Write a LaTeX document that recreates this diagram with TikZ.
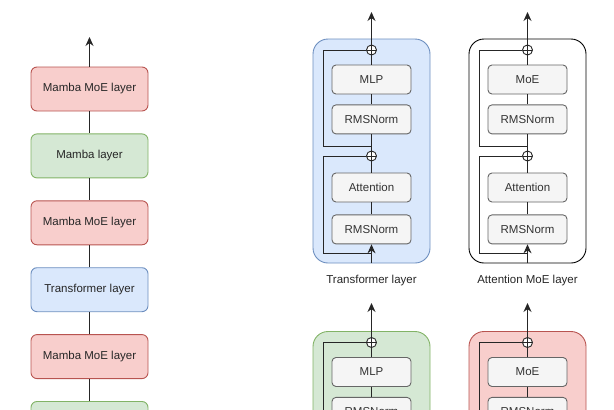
\documentclass[tikz,border=0pt]{standalone}
\usepackage{fontspec}
\setmainfont{Liberation Sans}
\usepackage{tikz}
\usetikzlibrary{
	arrows.meta,
	positioning,
}

\definecolor{moered}{HTML}{F8CECC}
\definecolor{moeredline}{HTML}{B85450}
\definecolor{mambagreen}{HTML}{D5E8D4}
\definecolor{mambagreenline}{HTML}{82B366}
\definecolor{transblue}{HTML}{DAE8FC}
\definecolor{transblueline}{HTML}{6C8EBF}
\definecolor{opfill}{HTML}{F5F5F5}
\definecolor{opline}{HTML}{666666}
\definecolor{optext}{HTML}{333333}

\begin{document}
\begin{tikzpicture}[
	x=1pt, y=-1pt,
	>={Stealth[length=9pt,width=8pt]}, line width=0.9pt, black!85,
	text=black!85,
	font=\fontsize{11.5}{13}\selectfont,
	node distance=22pt,
	layer/.style={rectangle, rounded corners=6pt, minimum width=117pt, minimum height=44pt, inner sep=0pt},
	moelayer/.style={layer, fill=moered, draw=moeredline},
	mambalayer/.style={layer, fill=mambagreen, draw=mambagreenline},
	translayer/.style={layer, fill=transblue, draw=transblueline},
	panel/.style={rectangle, rounded corners=15pt, minimum width=117pt, minimum height=224pt},
	op/.style={rectangle, rounded corners=4pt, fill=opfill, draw=opline, text=optext, minimum width=79pt, minimum height=29pt, inner sep=0pt},
	oplus/.style={circle, draw, fill=white, minimum size=10pt, inner sep=0pt,
		path picture={\draw (path picture bounding box.north) -- (path picture bounding box.south)
			(path picture bounding box.west) -- (path picture bounding box.east);}},
	]
	\useasboundingbox (0,0) rectangle (614,410);
	\clip (0,0) rectangle (614,410);
	
	%% left column
	\node[moelayer] (moe1) at (89.5,89) {Mamba MoE layer};
	\node[mambalayer, below=of moe1] (mamba1) {Mamba layer};
	\node[moelayer, below=of mamba1] (moe2) {Mamba MoE layer};
	\node[translayer, below=of moe2] (trans1) {Transformer layer};
	\node[moelayer, below=of trans1] (moe3) {Mamba MoE layer};
	\node[mambalayer, below=of moe3] (mamba2) {};
	\coordinate (out) at (89.5,37);
	
	\draw[->] (moe1) -- (out);
	\draw (moe1) -- (mamba1);
	\draw (mamba1) -- (moe2);
	\draw (moe2) -- (trans1);
	\draw (trans1) -- (moe3);
	\draw (moe3) -- (mamba2);
	
	%% transformer layer
	\node[panel, fill=transblue, draw=transblueline] (tpanel) at (371.5,151) {};
	\node[oplus] (tadd2) at (371.5,50) {};
	\node[op] (tmlp) at (371.5,79.5) {MLP};
	\node[op, below=10pt of tmlp] (tnorm1) {RMSNorm};
	\node[oplus] (tadd1) at (371.5,156) {};
	\node[op] (tattn) at (371.5,187.5) {Attention};
	\node[op, below=12pt of tattn] (tnorm2) {RMSNorm};
	\node (tlabel) at (371.5,281) {Transformer layer};
	\coordinate (tsplit1) at (371.5,253);
	\coordinate (tsplit2) at (371.5,146);
	\coordinate (tout) at (371.5,12);
	
	\draw[->] (tpanel.south) -- (tnorm2);
	\draw (tnorm2) -- (tattn);
	\draw (tattn) -- (tadd1);
	\draw (tadd1) -- (tnorm1);
	\draw (tnorm1) -- (tmlp);
	\draw (tmlp) -- (tadd2);
	\draw[->] (tadd2) -- (tout);
	\draw (tsplit1) -- ++(-48.5,0) |- (tadd1);
	\draw (tsplit2) -- ++(-48.5,0) |- (tadd2);
	
	%% attention moe layer
	\node[panel, fill=white, draw=black] (apanel) at (527.5,151) {};
	\node[oplus] (aadd2) at (527.5,50) {};
	\node[op] (amoe) at (527.5,79.5) {MoE};
	\node[op, below=10pt of amoe] (anorm1) {RMSNorm};
	\node[oplus] (aadd1) at (527.5,156) {};
	\node[op] (aattn) at (527.5,187.5) {Attention};
	\node[op, below=12pt of aattn] (anorm2) {RMSNorm};
	\node (alabel) at (527.5,281) {Attention MoE layer};
	\coordinate (asplit1) at (527.5,253);
	\coordinate (asplit2) at (527.5,146);
	\coordinate (aout) at (527.5,12);
	
	\draw[->] (apanel.south) -- (anorm2);
	\draw (anorm2) -- (aattn);
	\draw (aattn) -- (aadd1);
	\draw (aadd1) -- (anorm1);
	\draw (anorm1) -- (amoe);
	\draw (amoe) -- (aadd2);
	\draw[->] (aadd2) -- (aout);
	\draw (asplit1) -- ++(-48.5,0) |- (aadd1);
	\draw (asplit2) -- ++(-48.5,0) |- (aadd2);
	
	%% mamba layer (cut off)
	\node[panel, fill=mambagreen, draw=mambagreenline] (mpanel) at (371.5,443.5) {};
	\node[oplus] (madd) at (371.5,342.5) {};
	\node[op] (mmlp) at (371.5,372) {MLP};
	\node[op, below=10pt of mmlp] (mnorm) {RMSNorm};
	\coordinate (msplit) at (371.5,438.5);
	\coordinate (mout) at (371.5,303);
	
	\draw (mnorm) -- (mmlp);
	\draw (mmlp) -- (madd);
	\draw[->] (madd) -- (mout);
	\draw (msplit) -- ++(-48.5,0) |- (madd);
	
	%% mamba moe layer (cut off)
	\node[panel, fill=moered, draw=moeredline] (rpanel) at (527.5,443.5) {};
	\node[oplus] (radd) at (527.5,342.5) {};
	\node[op] (rmoe) at (527.5,372) {MoE};
	\node[op, below=10pt of rmoe] (rnorm) {RMSNorm};
	\coordinate (rsplit) at (527.5,438.5);
	\coordinate (rout) at (527.5,303);
	
	\draw (rnorm) -- (rmoe);
	\draw (rmoe) -- (radd);
	\draw[->] (radd) -- (rout);
	\draw (rsplit) -- ++(-48.5,0) |- (radd);
	
\end{tikzpicture}
\end{document}
